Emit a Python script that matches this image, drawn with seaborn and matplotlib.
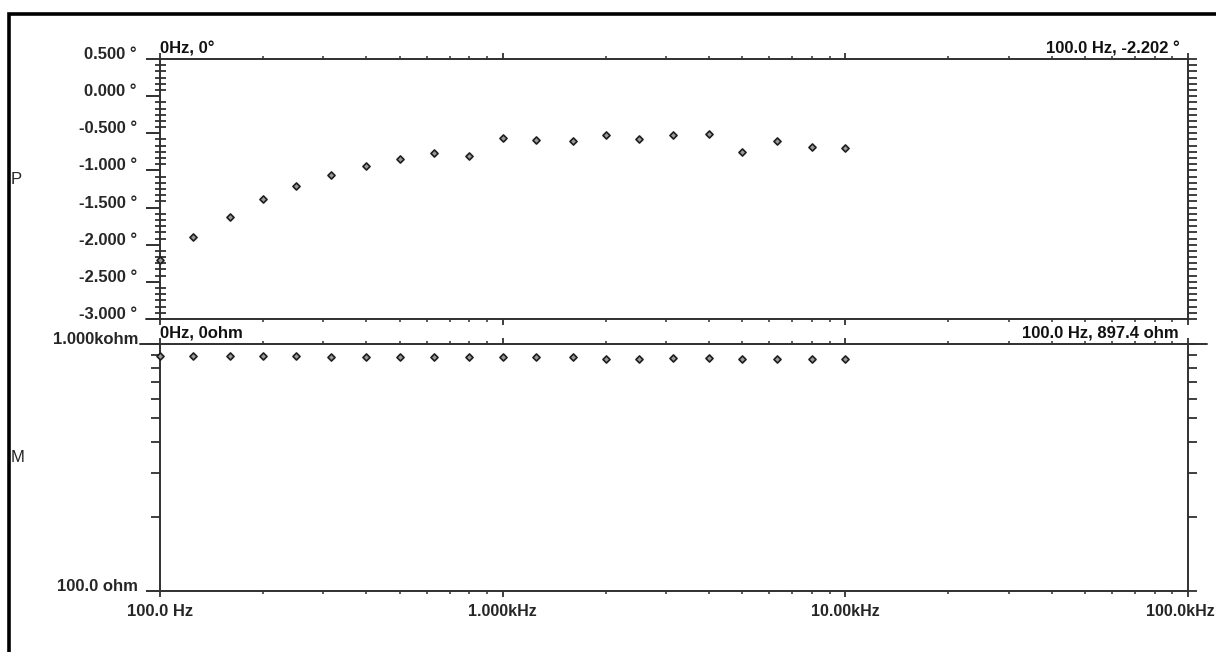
import numpy as np
import pandas as pd
import matplotlib
matplotlib.use("Agg")
import matplotlib.pyplot as plt
import matplotlib.ticker as mticker
import matplotlib.transforms as mtrans
from matplotlib.patches import Rectangle
from matplotlib.lines import Line2D
import seaborn as sns

# ---- data ----
freq_hz = [100, 125, 160, 200, 250, 315, 400, 500, 630, 800, 1000,
           1250, 1600, 2000, 2500, 3150, 4000, 5000, 6300, 8000, 10000]
phase_deg = [-2.202, -1.89, -1.63, -1.39, -1.205, -1.06, -0.944, -0.846, -0.765, -0.81, -0.567,
             -0.59, -0.604, -0.523, -0.572, -0.523, -0.505, -0.748, -0.604, -0.684, -0.702]
mag_ohm = [897.4, 896, 896, 896, 896, 884, 884, 884, 884, 884, 884,
           884, 884, 872, 872, 878, 878, 872, 872, 872, 872]

phase_ticks = [0.5, 0.0, -0.5, -1.0, -1.5, -2.0, -2.5, -3.0]
phase_tick_labels = ["0.500 °", "0.000 °", "-0.500 °", "-1.000 °", "-1.500 °",
                     "-2.000 °", "-2.500 °", "-3.000 °"]
mag_ticks = [100, 1000]
mag_tick_labels = ["100.0 ohm", "1.000kohm"]
freq_ticks = [100, 1000, 10000, 100000]
freq_tick_labels = ["100.0 Hz", "1.000kHz", "10.00kHz", "100.0kHz"]

df = pd.DataFrame({"freq": freq_hz, "phase": phase_deg, "mag": mag_ohm})

sns.set_style("white")
FONT = ["Liberation Sans", "DejaVu Sans"]
plt.rcParams["font.family"] = FONT
plt.rcParams["font.weight"] = "bold"

W, H = 1216, 652
fig = plt.figure(figsize=(W / 100, H / 100), dpi=100)
fig.patch.set_facecolor("white")

def fx(px):
    return px / W

def fy(py):
    return 1 - py / H

PT = 0.72  # points per pixel at 100 dpi
LC = "#303030"
LW = 1.4
FS = 12
FS_K = 11.5

axP = fig.add_axes([fx(160), fy(319), fx(1188) - fx(160), fy(59) - fy(319)])
axM = fig.add_axes([fx(160), fy(591), fx(1188) - fx(160), fy(344) - fy(591)])

mk = dict(marker="D", s=13, color="#9a9a9a", edgecolor="#1e1e1e", linewidth=1.2, legend=False, zorder=5)
sns.scatterplot(data=df, x="freq", y="phase", ax=axP, clip_on=False, **mk)
sns.scatterplot(data=df, x="freq", y="mag", ax=axM, clip_on=False, **mk)

for ax in (axP, axM):
    ax.set_xscale("log")
    ax.set_xlim(100, 100000)
    ax.set_xlabel("")
    ax.set_ylabel("")
    for s in ax.spines.values():
        s.set_color(LC)
        s.set_linewidth(LW)
    ax.xaxis.set_major_locator(mticker.FixedLocator(freq_ticks))
    ax.xaxis.set_minor_locator(mticker.LogLocator(base=10, subs=np.arange(2, 10)))
    ax.tick_params(axis="x", which="major", top=True, bottom=True, direction="out",
                   length=6 * PT, width=1.3, color=LC)
    ax.tick_params(axis="x", which="minor", top=True, bottom=True, direction="out",
                   length=3 * PT, width=1.1, color=LC)

# ---- phase axes ----
axP.set_ylim(-3.0, 0.5)
axP.set_yticks(phase_ticks)
axP.set_yticklabels(phase_tick_labels)
axP.yaxis.set_minor_locator(mticker.MultipleLocator(0.5 / 6))
axP.tick_params(axis="y", which="major", left=True, right=False, direction="out",
                length=14 * PT, width=1.4, color=LC, pad=9 * PT, labelsize=FS)
axP.tick_params(axis="y", which="minor", left=True, right=False, direction="inout",
                length=11 * PT, width=1.3, color=LC)
axP.tick_params(axis="x", labelbottom=False)
for t in axP.get_yticklabels():
    t.set_verticalalignment("baseline")
    t.set_fontweight("bold")

axP2 = axP.twinx()
axP2.set_ylim(-3.0, 0.5)
axP2.set_yticks(phase_ticks)
axP2.yaxis.set_minor_locator(mticker.MultipleLocator(0.5 / 6))
axP2.tick_params(axis="y", which="both", right=True, labelright=False, direction="out",
                 length=9 * PT, width=1.3, color=LC)
for s in axP2.spines.values():
    s.set_visible(False)

# ---- magnitude axes ----
axM.set_yscale("log")
axM.set_ylim(100, 1000)
axM.yaxis.set_major_locator(mticker.FixedLocator(mag_ticks))
axM.yaxis.set_major_formatter(mticker.FixedFormatter(mag_tick_labels))
axM.yaxis.set_minor_locator(mticker.LogLocator(base=10, subs=np.arange(2, 10)))
axM.yaxis.set_minor_formatter(mticker.NullFormatter())
axM.tick_params(axis="y", which="major", left=True, right=False, direction="out",
                length=14 * PT, width=1.4, color=LC, pad=8 * PT, labelsize=FS)
axM.tick_params(axis="y", which="minor", left=True, right=False, direction="out",
                length=9 * PT, width=1.3, color=LC)
# the last frequency label sits at the figure edge; it is drawn separately below
axM.set_xticklabels(freq_tick_labels[:-1] + [""])
axM.tick_params(axis="x", which="major", labelsize=FS, pad=7 * PT)
for t in axM.get_yticklabels():
    t.set_verticalalignment("baseline")
    t.set_fontweight("bold")
for i, t in enumerate(axM.get_xticklabels()):
    t.set_fontweight("bold")
    if i > 0:
        t.set_fontsize(FS_K)

# last x label, right-aligned so it stays inside the picture
axM.text(freq_ticks[-1], 0, freq_tick_labels[-1], transform=mtrans.offset_copy(
    axM.get_xaxis_transform(), fig=fig, x=27 * PT, y=-(6 + 7) * PT, units="points"),
    ha="right", va="top", fontsize=FS_K, fontweight="bold")

axM2 = axM.twinx()
axM2.set_yscale("log")
axM2.set_ylim(100, 1000)
axM2.yaxis.set_major_locator(mticker.FixedLocator(mag_ticks))
axM2.yaxis.set_minor_locator(mticker.LogLocator(base=10, subs=np.arange(2, 10)))
axM2.yaxis.set_major_formatter(mticker.NullFormatter())
axM2.yaxis.set_minor_formatter(mticker.NullFormatter())
axM2.tick_params(axis="y", which="both", right=True, labelright=False, direction="out",
                 length=9 * PT, width=1.3, color=LC)
for s in axM2.spines.values():
    s.set_visible(False)

# ---- cursor / header annotations ----
tk = dict(fontsize=FS, fontweight="bold", color="#111111", va="baseline")
axP.text(0.0, 1.0 + 6 / 260, "0Hz, 0°", transform=axP.transAxes, ha="left", **tk)
axP.text(1.0 - 8 / 1028, 1.0 + 6 / 260, "100.0 Hz, -2.202 °", transform=axP.transAxes, ha="right", **tk)
axM.text(0.0, 1.0 + 6 / 247, "0Hz, 0ohm", transform=axM.transAxes, ha="left", **tk)
axM.text(1.0 - 9 / 1028, 1.0 + 6 / 247, "100.0 Hz, 897.4 ohm", transform=axM.transAxes, ha="right", **tk)

# side labels
fig.text(fx(11), fy(180), "P", ha="left", va="center", fontsize=FS, fontweight="normal")
fig.text(fx(11), fy(458), "M", ha="left", va="center", fontsize=FS, fontweight="normal")

# decorative extensions of frame lines
fig.add_artist(Line2D([fx(146), fx(160)], [fy(319), fy(319)], color=LC, lw=LW))
fig.add_artist(Line2D([fx(140), fx(160)], [fy(344), fy(344)], color=LC, lw=LW))
fig.add_artist(Line2D([fx(1188), fx(1207)], [fy(344), fy(344)], color=LC, lw=LW))

# outer border
fig.add_artist(Rectangle((fx(9), -0.1), 1.2, fy(14) + 0.1, transform=fig.transFigure,
                         fill=False, edgecolor="black", linewidth=2.6))

fig.savefig("out.png", dpi=100, facecolor="white")
